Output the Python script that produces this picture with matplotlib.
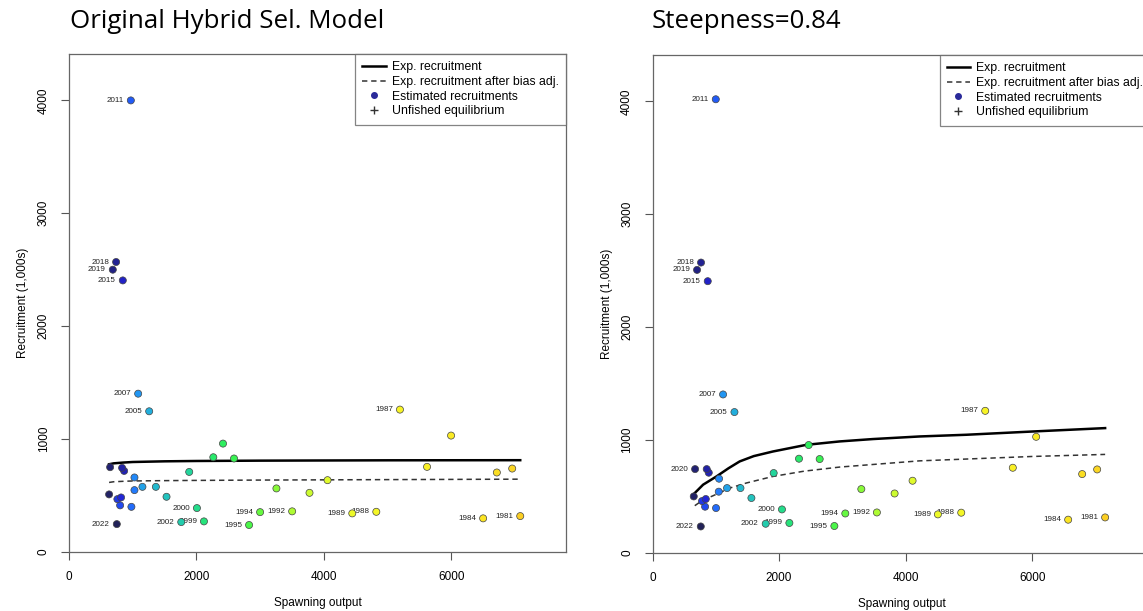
import numpy as np
import matplotlib.pyplot as plt
from matplotlib.lines import Line2D

plt.rcParams['font.family'] = ['Liberation Sans', 'DejaVu Sans']

years = list(range(1981, 2023))

# Original hybrid selectivity model: spawning output and estimated recruitment (1,000s)
ssb_orig = [7079, 6953, 6712, 6497, 5994, 5617, 5192, 4821, 4444, 4056,
            3773, 3501, 3254, 2998, 2825, 2589, 2416, 2264, 2117, 2007,
            1886, 1761, 1530, 1363, 1258, 1152, 1085, 1027, 1027, 979,
            970, 802, 759, 817, 844, 865, 833, 739, 687, 645,
            629, 750]
rec_orig = [318, 739, 704, 298, 1031, 754, 1261, 356, 342, 636,
            524, 360, 563, 353, 239, 828, 960, 839, 271, 389,
            709, 265, 489, 577, 1246, 577, 1402, 660, 548, 400,
            3999, 413, 468, 483, 2405, 718, 745, 2568, 2500, 751,
            510, 247]

# expected recruitment curves
curve_x_orig = [629, 700, 850, 1000, 1500, 2000, 3000, 5000, 7079]
exp_orig = [777, 785, 792, 797, 803, 806, 809, 812, 813]
exp_adj_orig = [616, 622, 626, 629, 632, 634, 637, 641, 645]

# Steepness = 0.84 model
ssb_h84 = [7153, 7027, 6790, 6569, 6063, 5694, 5258, 4879, 4510, 4110,
           3826, 3546, 3300, 3047, 2874, 2642, 2468, 2315, 2163, 2046,
           1915, 1789, 1563, 1390, 1295, 1178, 1115, 1052, 1047, 1004,
           1000, 831, 783, 842, 873, 889, 857, 767, 704, 673,
           652, 763]
rec_h84 = [315, 740, 699, 295, 1029, 755, 1259, 357, 342, 640,
           527, 359, 566, 350, 239, 832, 956, 835, 266, 386,
           708, 259, 487, 575, 1248, 575, 1404, 658, 543, 398,
           4018, 410, 460, 478, 2407, 711, 743, 2572, 2507, 743,
           501, 235]

curve_x_h84 = [641, 800, 1011, 1200, 1378, 1600, 1904, 2432, 2958, 3483, 4221, 4958, 6010, 7153]
exp_h84 = [516, 605, 678, 750, 811, 858, 899, 958, 988, 1009, 1032, 1047, 1076, 1106]
curve_x_adj_h84 = [668, 800, 957, 1221, 1484, 1904, 2400, 2958, 4221, 4958, 6010, 7153]
exp_adj_h84 = [419, 470, 507, 575, 620, 678, 725, 761, 816, 832, 855, 873]

labeled_orig = [1981, 1984, 1987, 1988, 1989, 1992, 1994, 1995, 1999, 2000,
                2002, 2005, 2007, 2011, 2015, 2018, 2019, 2022]
labeled_h84 = labeled_orig + [2020]

titles = ["Original Hybrid Sel. Model", "Steepness=0.84"]
legend_labels = ["Exp. recruitment", "Exp. recruitment after bias adj.",
                 "Estimated recruitments", "Unfished equilibrium"]


def rich_colors(n):
    # same ramp as r4ss rich.colors.short
    x = np.linspace(0, 1, n)
    r = 1 / (1 + np.exp(20 - 35 * x))
    g = np.clip(-0.8 + 6 * x - 5 * x ** 2, 0, 1)
    b = np.exp(-0.5 * ((x - 0.25) / 0.15) ** 2)
    return np.column_stack([r, g, b])


ramp = rich_colors(len(years) + 10)
pt_cols = ramp[:len(years)][::-1]
pt_cols = pt_cols * 0.85 + 0.15 * 0.9  # a bit washed out like the original

fig = plt.figure(figsize=(11.43, 6.11), dpi=100)
ax1 = fig.add_axes([69 / 1143, 1 - 552 / 611, 497 / 1143, 498 / 611])
ax2 = fig.add_axes([652.5 / 1143, 1 - 553 / 611, 498 / 1143, 498 / 611])

panels = [
    (ax1, ssb_orig, rec_orig, curve_x_orig, exp_orig, curve_x_orig, exp_adj_orig, labeled_orig, 7797, 4410),
    (ax2, ssb_h84, rec_h84, curve_x_h84, exp_h84, curve_x_adj_h84, exp_adj_h84, labeled_h84, 7870, 4410),
]

for ax, ssb, rec, cx, cy, ax_x, ax_y, labeled, xmax, ymax in panels:
    ax.plot(cx, cy, color='black', lw=1.8, zorder=2)
    ax.plot(ax_x, ax_y, color='#333333', lw=1.1, ls=(0, (3.5, 2.5)), zorder=2)
    ax.scatter(ssb, rec, s=26, c=pt_cols, edgecolors='#444444', linewidths=0.5, zorder=4)
    for yr, xv, yv in zip(years, ssb, rec):
        if yr in labeled:
            ax.annotate(str(yr), (xv, yv), xytext=(-5, 0), textcoords='offset points',
                        ha='right', va='center', fontsize=5.8, color='#222222', zorder=3)
    ax.set_xlim(0, xmax)
    ax.set_ylim(0, ymax)
    ax.set_xticks([0, 2000, 4000, 6000])
    ax.set_yticks([0, 1000, 2000, 3000, 4000])
    for lab in ax.get_yticklabels():
        lab.set_rotation(90)
        lab.set_va('center')
    ax.tick_params(direction='out', length=6, width=0.8, color='#555555',
                   labelsize=8.5, pad=8)
    for sp in ax.spines.values():
        sp.set_color('#666666')
        sp.set_linewidth(0.9)
    ax.set_xlabel("Spawning output", fontsize=8.5, labelpad=10)
    ax.set_ylabel("Recruitment (1,000s)", fontsize=8.5, labelpad=6)

    handles = [Line2D([], [], color='black', lw=1.8),
               Line2D([], [], color='#333333', lw=1.1, ls=(0, (3.5, 2.5))),
               Line2D([], [], ls='none', marker='o', ms=4, color='#2a2a9a'),
               Line2D([], [], ls='none', marker='+', ms=6, color='#333333')]
    leg = ax.legend(handles, legend_labels, loc='upper right', fontsize=8.8,
                    frameon=True, fancybox=False, edgecolor='#666666',
                    handlelength=1.9, handletextpad=0.5, labelspacing=0.22,
                    borderpad=0.6, borderaxespad=0)
    leg.get_frame().set_linewidth(0.9)

fig.text(70 / 1143, 1 - 21 / 611, titles[0], fontsize=18.6, va='center', ha='left',
         family=['Open Sans', 'DejaVu Sans'])
fig.text(652 / 1143, 1 - 21 / 611, titles[1], fontsize=18.6, va='center', ha='left',
         family=['Open Sans', 'DejaVu Sans'])

fig.savefig("out.png", dpi=100)
